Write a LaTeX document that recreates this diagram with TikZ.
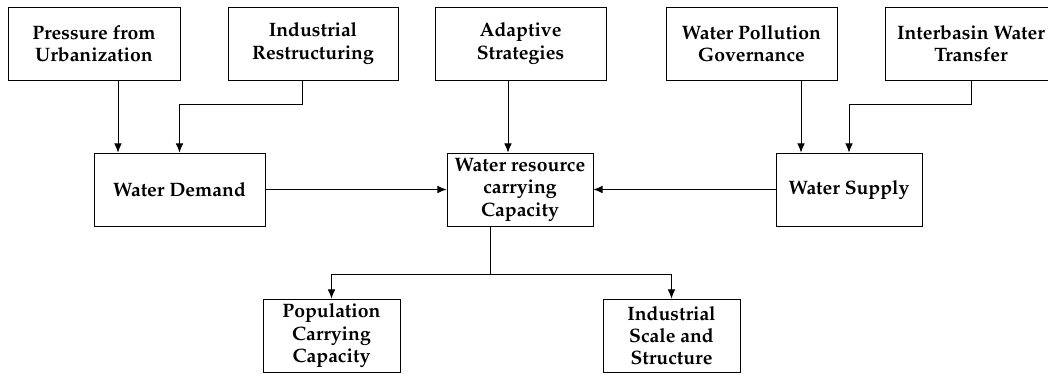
\documentclass[tikz,border=0pt]{standalone}
\usepackage[T1]{fontenc}
\usepackage{mathpazo}
\usepackage{tikz}
\usetikzlibrary{arrows.meta, positioning}
\tikzstyle{arrow} = [-{Latex[length=2.3mm,width=1.9mm]},line width=0.6pt]
\tikzstyle{box} = [draw, line width=0.6pt, align=center, inner sep=0pt,
	font=\fontsize{13.8}{15.8}\selectfont\bfseries]

\begin{document}
\begin{tikzpicture}[x=0.025cm, y=-0.025cm]
	\clip (0,0) rectangle (1048,374);
	
	% Driving factors
	\node[box, minimum width=4.3cm, minimum height=1.825cm] (urb) at (94,43.5) {Pressure from\\Urbanization};
	\node[box, minimum width=4.25cm, minimum height=1.825cm] (ind) at (313,43.5) {Industrial\\Restructuring};
	\node[box, minimum width=4.275cm, minimum height=1.825cm] (adp) at (520.5,43.5) {Adaptive\\Strategies};
	\node[box, minimum width=4.275cm, minimum height=1.825cm] (pol) at (751.5,43.5) {Water Pollution\\Governance};
	\node[box, minimum width=4.3cm, minimum height=1.825cm] (itb) at (971,43.5) {Interbasin Water\\Transfer};
	
	% Demand, capacity, supply
	\node[box, minimum width=4.275cm, minimum height=1.825cm] (dem) at (179.5,189.5) {Water Demand};
	\node[box, minimum width=3.65cm, minimum height=1.825cm] (cap) at (520,189.5) {Water resource\\carrying\\Capacity};
	\node[box, minimum width=3.65cm, minimum height=1.825cm] (sup) at (849,189.5) {Water Supply};
	
	% Outcomes
	\node[box, minimum width=3.425cm, minimum height=1.825cm] (pop) at (331.5,335.5) {Population\\Carrying\\Capacity};
	\node[box, minimum width=3.425cm, minimum height=1.825cm] (isc) at (671.5,335.5) {Industrial\\Scale and\\Structure};
	
	% Bend points
	\coordinate (urbx) at (118,0);
	\coordinate (adpx) at (508,0);
	\coordinate (polx) at (801,0);
	\coordinate (indbend) at (302,104);
	\coordinate (itbbend) at (971,104);
	\coordinate (fork) at (490,274);
	
	% Connectors
	\draw[arrow] (urb.south -| urbx) -- (dem.north -| urbx);
	\draw[arrow] (ind.south -| indbend) -- (indbend) -| (dem.north);
	\draw[arrow] (adp.south -| adpx) -- (cap.north -| adpx);
	\draw[arrow] (pol.south -| polx) -- (sup.north -| polx);
	\draw[arrow] (itb.south) -- (itbbend) -| (sup.north);
	\draw[arrow] (dem.east) -- (cap.west);
	\draw[arrow] (sup.west) -- (cap.east);
	\draw[line width=0.6pt] (cap.south -| fork) -- (fork);
	\draw[arrow] (fork) -| (pop.north);
	\draw[arrow] (fork) -| (isc.north);
	
\end{tikzpicture}
\end{document}
